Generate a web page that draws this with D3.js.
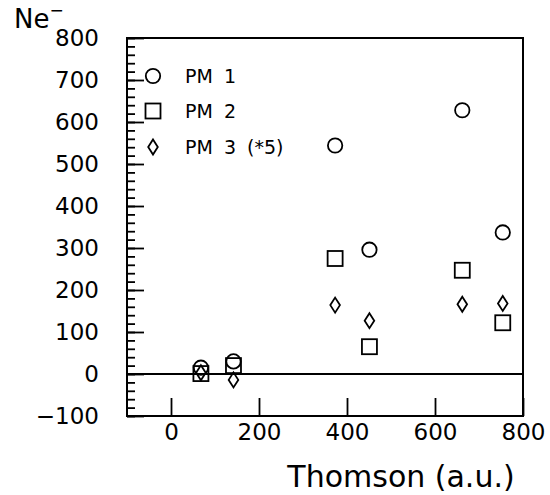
<!DOCTYPE html>
<html>
<head>
<meta charset="utf-8">
<script src="https://cdn.jsdelivr.net/npm/d3@7"></script>
<style>
  html, body { margin: 0; padding: 0; background: #fff; }
  svg { display: block; }
  text { font-family: "DejaVu Sans", sans-serif; fill: #000; }
</style>
</head>
<body>
<svg id="chart" width="550" height="495"></svg>
<script>
// Thomson signal of each shot (a.u.)
const thomson = [68, 142, 373, 451, 662, 754];
// Electron counts seen by each photomultiplier
const pm1 = [15, 30, 544, 296, 628, 337];
const pm2 = [1, 20, 275, 65, 247, 122];
const pm3x5 = [3, -14, 164, 127, 166, 168];   // PM 3 scaled by 5

const seriesNames = ["PM 1", "PM 2", "PM 3 (*5)"];
const seriesShapes = ["circle", "square", "diamond"];
const xTicks = [0, 200, 400, 600, 800];
const yTicks = [-100, 0, 100, 200, 300, 400, 500, 600, 700, 800];

const svg = d3.select("#chart");
const plotLeft = 127, plotRight = 523, plotTop = 38, plotBottom = 416;

const x = d3.scaleLinear().domain([-100, 800]).range([plotLeft, plotRight]);
const y = d3.scaleLinear().domain([-100, 800]).range([plotBottom, plotTop]);

// minor y ticks every 20
svg.append("g")
  .attr("transform", `translate(${plotLeft},0)`)
  .call(d3.axisLeft(y).tickValues(d3.range(-100, 801, 20)).tickSize(-8).tickFormat(""))
  .call(g => g.select(".domain").remove())
  .call(g => g.selectAll("line").attr("stroke", "#000").attr("stroke-width", 1.8));

// major y ticks with labels
svg.append("g")
  .attr("transform", `translate(${plotLeft},0)`)
  .call(d3.axisLeft(y).tickValues(yTicks).tickSize(-17).tickPadding(28)
        .tickFormat(d => d < 0 ? "\u2212" + Math.abs(d) : d))
  .call(g => g.select(".domain").remove())
  .call(g => g.selectAll("line").attr("stroke", "#000").attr("stroke-width", 1.8))
  .call(g => g.selectAll("text").attr("font-size", 23).attr("font-family", "DejaVu Sans").attr("fill", "#000"));

// x ticks with labels
svg.append("g")
  .attr("transform", `translate(0,${plotBottom})`)
  .call(d3.axisBottom(x).tickValues(xTicks).tickSize(-18).tickPadding(8))
  .call(g => g.select(".domain").remove())
  .call(g => g.selectAll("line").attr("stroke", "#000").attr("stroke-width", 1.8))
  .call(g => g.selectAll("text").attr("font-size", 23).attr("font-family", "DejaVu Sans").attr("fill", "#000"));

// frame
svg.append("rect")
  .attr("x", plotLeft).attr("y", plotTop)
  .attr("width", plotRight - plotLeft).attr("height", plotBottom - plotTop)
  .attr("fill", "none").attr("stroke", "#000").attr("stroke-width", 2);

// zero line
svg.append("line")
  .attr("x1", plotLeft).attr("x2", plotRight)
  .attr("y1", y(0)).attr("y2", y(0))
  .attr("stroke", "#000").attr("stroke-width", 2);

// marker shapes
function drawMarker(g, shape, cx, cy) {
  let el;
  if (shape === "circle") {
    el = g.append("circle").attr("cx", cx).attr("cy", cy).attr("r", 7.2);
  } else if (shape === "square") {
    el = g.append("rect").attr("x", cx - 7.5).attr("y", cy - 7.5).attr("width", 15).attr("height", 15);
  } else {
    el = g.append("path").attr("d", `M${cx},${cy - 7.5}L${cx + 4.8},${cy}L${cx},${cy + 7.5}L${cx - 4.8},${cy}Z`);
  }
  el.attr("fill", "none").attr("stroke", "#000").attr("stroke-width", 1.8);
}

const allSeries = [pm1, pm2, pm3x5];
const pts = svg.append("g");
allSeries.forEach((vals, si) => {
  vals.forEach((v, i) => drawMarker(pts, seriesShapes[si], x(thomson[i]), y(v)));
});

// legend
const legendY = [76, 111, 147];
const legend = svg.append("g");
seriesNames.forEach((name, i) => {
  drawMarker(legend, seriesShapes[i], 153, legendY[i]);
  legend.append("text")
    .attr("x", 185).attr("y", legendY[i])
    .attr("dy", "0.36em")
    .attr("font-size", 19)
    .attr("word-spacing", 5)
    .text(name);
});

// axis titles
svg.append("text")
  .attr("x", 401).attr("y", 487)
  .attr("text-anchor", "middle")
  .attr("font-size", 30)
  .text("Thomson (a.u.)");

const ne = svg.append("text")
  .attr("x", 14).attr("y", 28)
  .attr("font-size", 26);
ne.append("tspan").text("Ne");
ne.append("tspan").attr("dy", -12).attr("font-size", 17).text("\u2212");
</script>
</body>
</html>
